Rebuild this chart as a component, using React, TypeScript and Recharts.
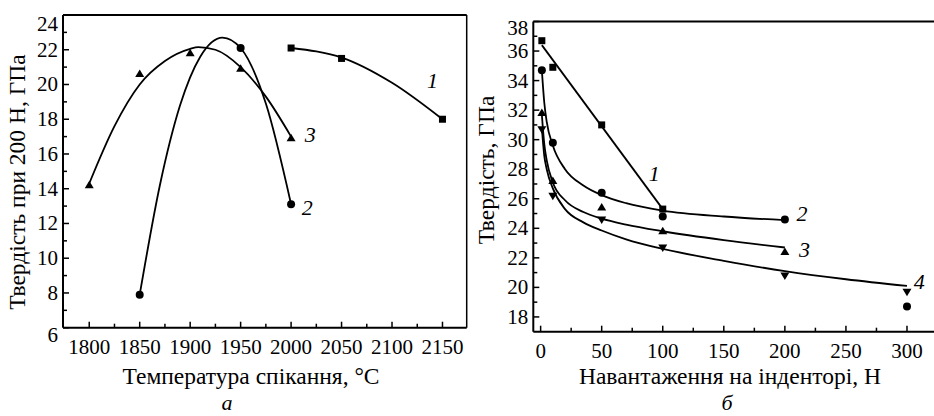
import { ComposedChart, Line, Scatter, XAxis, YAxis, ReferenceLine, ReferenceDot, Label } from "recharts";

const FONT = "Times New Roman, Liberation Serif, DejaVu Serif, serif";

// ---- (а) hardness vs sintering temperature
const tempTicks = [1800, 1850, 1900, 1950, 2000, 2050, 2100, 2150];
const tempMinor = [1825, 1875, 1925, 1975, 2025, 2075, 2125];
const hvTicksA = [6, 8, 10, 12, 14, 16, 18, 20, 22, 24];
const hvMinorA = [7, 9, 11, 13, 15, 17, 19, 21, 23];

const temp1 = [2000, 2050, 2150];
const hv1 = [22.1, 21.5, 18.0];
const temp2 = [1850, 1950, 2000];
const hv2 = [7.9, 22.1, 13.1];
const temp3 = [1800, 1850, 1900, 1950, 2000];
const hv3 = [14.2, 20.6, 21.8, 20.9, 16.9];

// fitted curves
const fitTemp1 = [2000, 2025, 2050, 2100, 2150];
const fitHv1 = [22.1, 21.9, 21.55, 20.1, 18.0];
const fitTemp2 = [1850, 1870, 1890, 1910, 1932, 1950, 1975, 2000];
const fitHv2 = [7.9, 14.2, 18.8, 21.6, 22.7, 22.1, 18.9, 13.1];
const fitTemp3 = [1800, 1825, 1850, 1875, 1900, 1908, 1925, 1950, 1975, 2000];
const fitHv3 = [14.3, 17.6, 20.0, 21.35, 22.05, 22.15, 22.0, 21.0, 19.3, 17.0];

// ---- (б) hardness vs indenter load
const loadTicks = [0, 50, 100, 150, 200, 250, 300];
const loadMinor = [25, 75, 125, 175, 225, 275];
const hvTicksB = [18, 20, 22, 24, 26, 28, 30, 32, 34, 36, 38];
const hvMinorB = [19, 21, 23, 25, 27, 29, 31, 33, 35, 37];

const loadSq = [1, 10, 50, 100];
const hvSq = [36.7, 34.9, 31.0, 25.3];
const loadCirc = [1, 10, 50, 100, 200, 300];
const hvCirc = [34.7, 29.8, 26.4, 24.8, 24.6, 18.7];
const loadUp = [1, 10, 50, 100, 200];
const hvUp = [31.8, 27.2, 25.4, 23.8, 22.4];
const loadDown = [1, 10, 50, 100, 200, 300];
const hvDown = [30.7, 26.2, 24.6, 22.7, 20.8, 19.7];

const fitLoad1 = [1, 100];
const fitHvB1 = [36.4, 25.3];
const fitLoad2 = [1, 3, 5, 10, 20, 35, 50, 70, 100, 150, 200];
const fitHvB2 = [34.7, 32.5, 31.2, 29.6, 28.0, 26.9, 26.25, 25.7, 25.2, 24.8, 24.55];
const fitLoad3 = [1, 3, 5, 10, 20, 35, 50, 70, 100, 150, 200];
const fitHvB3 = [31.7, 29.7, 28.6, 27.1, 25.9, 25.1, 24.65, 24.25, 23.8, 23.2, 22.7];
const fitLoad4 = [1, 3, 5, 10, 20, 35, 50, 70, 100, 150, 200, 250, 300];
const fitHvB4 = [30.8, 28.9, 28.0, 26.7, 25.3, 24.4, 23.85, 23.25, 22.6, 21.8, 21.1, 20.55, 20.1];

const labelsA = [
  { t: "1", x: 2140, y: 20.2 },
  { t: "3", x: 2019, y: 17.1 },
  { t: "2", x: 2016, y: 12.9 },
];
const labelsB = [
  { t: "1", x: 93, y: 27.7 },
  { t: "2", x: 214, y: 25.0 },
  { t: "3", x: 216, y: 22.5 },
  { t: "4", x: 310, y: 20.35 },
];

const pts = (xs: number[], ys: number[]) => xs.map((x, i) => ({ x, y: ys[i] }));

const Sq = (p: any) => <rect x={p.cx - 3.5} y={p.cy - 3.5} width={7} height={7} fill="#000" />;
const Dot = (p: any) => <circle cx={p.cx} cy={p.cy} r={4} fill="#000" />;
const TriUp = (p: any) => (
  <polygon points={`${p.cx},${p.cy - 4.5} ${p.cx - 4.5},${p.cy + 3} ${p.cx + 4.5},${p.cy + 3}`} fill="#000" />
);
const TriDown = (p: any) => (
  <polygon points={`${p.cx},${p.cy + 4.5} ${p.cx - 4.5},${p.cy - 3} ${p.cx + 4.5},${p.cy - 3}`} fill="#000" />
);

function XTick({ x, y, payload, major }: any) {
  const v = payload.value;
  const isMajor = major.includes(v);
  return (
    <g>
      <line x1={x} x2={x} y1={y} y2={y - (isMajor ? 6 : 4)} stroke="#000" strokeWidth={1.5} />
      {isMajor && (
        <text x={x} y={y + 26} textAnchor="middle" fontSize={21} fontFamily={FONT} fill="#000">
          {v}
        </text>
      )}
    </g>
  );
}

function YTick({ x, y, payload, major, shift }: any) {
  const v = payload.value;
  const isMajor = major.includes(v);
  const dy = shift[v] || 0;
  return (
    <g>
      <line x1={x} x2={x + (isMajor ? 6 : 4)} y1={y} y2={y} stroke="#000" strokeWidth={1.5} />
      {isMajor && (
        <text x={x - 5} y={y + 7 + dy} textAnchor="end" fontSize={21} fontFamily={FONT} fill="#000">
          {v}
        </text>
      )}
    </g>
  );
}

const NumLabel = (t: string) => (p: any) => (
  <text x={p.cx} y={p.cy + 7} textAnchor="middle" fontSize={22} fontStyle="italic" fontFamily={FONT} fill="#000">
    {t}
  </text>
);

const txt = { fontSize: 23.5, fontFamily: FONT, fill: "#000" };

function ChartA() {
  return (
    <ComposedChart width={470} height={416} margin={{ top: 15, right: 3.3, bottom: 87.3, left: 62 }}>
      <XAxis
        type="number"
        dataKey="x"
        domain={[1774, 2174]}
        ticks={[...tempTicks, ...tempMinor]}
        interval={0}
        height={1}
        tickSize={0}
        tickMargin={0}
        tickLine={false}
        axisLine={{ stroke: "#000", strokeWidth: 2 }}
        tick={(p: any) => <XTick {...p} major={tempTicks} />}
      >
        <Label content={() => <text x={251} y={384} textAnchor="middle" {...txt}>Температура спікання, °C</text>} />
        <Label content={() => <text x={227} y={410} textAnchor="middle" {...txt} fontSize={22} fontStyle="italic">а</text>} />
      </XAxis>
      <YAxis
        type="number"
        dataKey="y"
        domain={[6, 24]}
        ticks={[...hvTicksA, ...hvMinorA]}
        interval={0}
        width={1}
        tickSize={0}
        tickMargin={0}
        tickLine={false}
        axisLine={{ stroke: "#000", strokeWidth: 2 }}
        tick={(p: any) => <YTick {...p} major={hvTicksA} shift={{ 24: 9, 6: 7 }} />}
      >
        <Label
          content={() => (
            <text x={25} y={182} transform="rotate(-90 25 182)" textAnchor="middle" {...txt}>
              Твердість при 200 Н, ГПа
            </text>
          )}
        />
      </YAxis>
      <ReferenceLine y={24} stroke="#000" strokeWidth={2} ifOverflow="visible" />
      <ReferenceLine x={2174} stroke="#000" strokeWidth={1.5} ifOverflow="visible" />
      <Line data={pts(fitTemp1, fitHv1)} dataKey="y" type="monotone" stroke="#000" strokeWidth={1.8} dot={false} activeDot={false} isAnimationActive={false} />
      <Line data={pts(fitTemp2, fitHv2)} dataKey="y" type="monotone" stroke="#000" strokeWidth={1.8} dot={false} activeDot={false} isAnimationActive={false} />
      <Line data={pts(fitTemp3, fitHv3)} dataKey="y" type="monotone" stroke="#000" strokeWidth={1.8} dot={false} activeDot={false} isAnimationActive={false} />
      <Scatter data={pts(temp1, hv1)} shape={Sq} isAnimationActive={false} />
      <Scatter data={pts(temp2, hv2)} shape={Dot} isAnimationActive={false} />
      <Scatter data={pts(temp3, hv3)} shape={TriUp} isAnimationActive={false} />
      {labelsA.map((l) => (
        <ReferenceDot key={l.t} x={l.x} y={l.y} r={0} ifOverflow="visible" shape={NumLabel(l.t)} />
      ))}
    </ComposedChart>
  );
}

function ChartB() {
  return (
    <ComposedChart width={470} height={416} margin={{ top: 21.5, right: 3.7, bottom: 83.3, left: 62.3 }}>
      <XAxis
        type="number"
        dataKey="x"
        domain={[-6, 324]}
        ticks={[...loadTicks, ...loadMinor]}
        interval={0}
        height={1}
        tickSize={0}
        tickMargin={0}
        tickLine={false}
        axisLine={{ stroke: "#000", strokeWidth: 2 }}
        tick={(p: any) => <XTick {...p} major={loadTicks} />}
      >
        <Label content={() => <text x={260} y={384} textAnchor="middle" {...txt}>Навантаження на інденторі, Н</text>} />
        <Label content={() => <text x={257} y={410} textAnchor="middle" {...txt} fontSize={22} fontStyle="italic">б</text>} />
      </XAxis>
      <YAxis
        type="number"
        dataKey="y"
        domain={[17, 38]}
        ticks={[...hvTicksB, ...hvMinorB]}
        interval={0}
        width={1}
        tickSize={0}
        tickMargin={0}
        tickLine={false}
        axisLine={{ stroke: "#000", strokeWidth: 2 }}
        tick={(p: any) => <YTick {...p} major={hvTicksB} shift={{ 38: 6 }} />}
      >
        <Label
          content={() => (
            <text x={24} y={170} transform="rotate(-90 24 170)" textAnchor="middle" {...txt}>
              Твердість, ГПа
            </text>
          )}
        />
      </YAxis>
      <ReferenceLine y={38} stroke="#000" strokeWidth={2} ifOverflow="visible" />
      <Line data={pts(fitLoad1, fitHvB1)} dataKey="y" type="linear" stroke="#000" strokeWidth={1.8} dot={false} activeDot={false} isAnimationActive={false} />
      <Line data={pts(fitLoad2, fitHvB2)} dataKey="y" type="monotone" stroke="#000" strokeWidth={1.8} dot={false} activeDot={false} isAnimationActive={false} />
      <Line data={pts(fitLoad3, fitHvB3)} dataKey="y" type="monotone" stroke="#000" strokeWidth={1.8} dot={false} activeDot={false} isAnimationActive={false} />
      <Line data={pts(fitLoad4, fitHvB4)} dataKey="y" type="monotone" stroke="#000" strokeWidth={1.8} dot={false} activeDot={false} isAnimationActive={false} />
      <Scatter data={pts(loadSq, hvSq)} shape={Sq} isAnimationActive={false} />
      <Scatter data={pts(loadCirc, hvCirc)} shape={Dot} isAnimationActive={false} />
      <Scatter data={pts(loadUp, hvUp)} shape={TriUp} isAnimationActive={false} />
      <Scatter data={pts(loadDown, hvDown)} shape={TriDown} isAnimationActive={false} />
      {labelsB.map((l) => (
        <ReferenceDot key={l.t} x={l.x} y={l.y} r={0} ifOverflow="visible" shape={NumLabel(l.t)} />
      ))}
    </ComposedChart>
  );
}

export default function App() {
  return (
    <div style={{ position: "absolute", left: 0, top: 0, width: 934, height: 416, overflow: "hidden", background: "#fff" }}>
      <div style={{ position: "absolute", left: 0, top: 0 }}>
        <ChartA />
      </div>
      <div style={{ position: "absolute", left: 470, top: 0 }}>
        <ChartB />
      </div>
    </div>
  );
}
